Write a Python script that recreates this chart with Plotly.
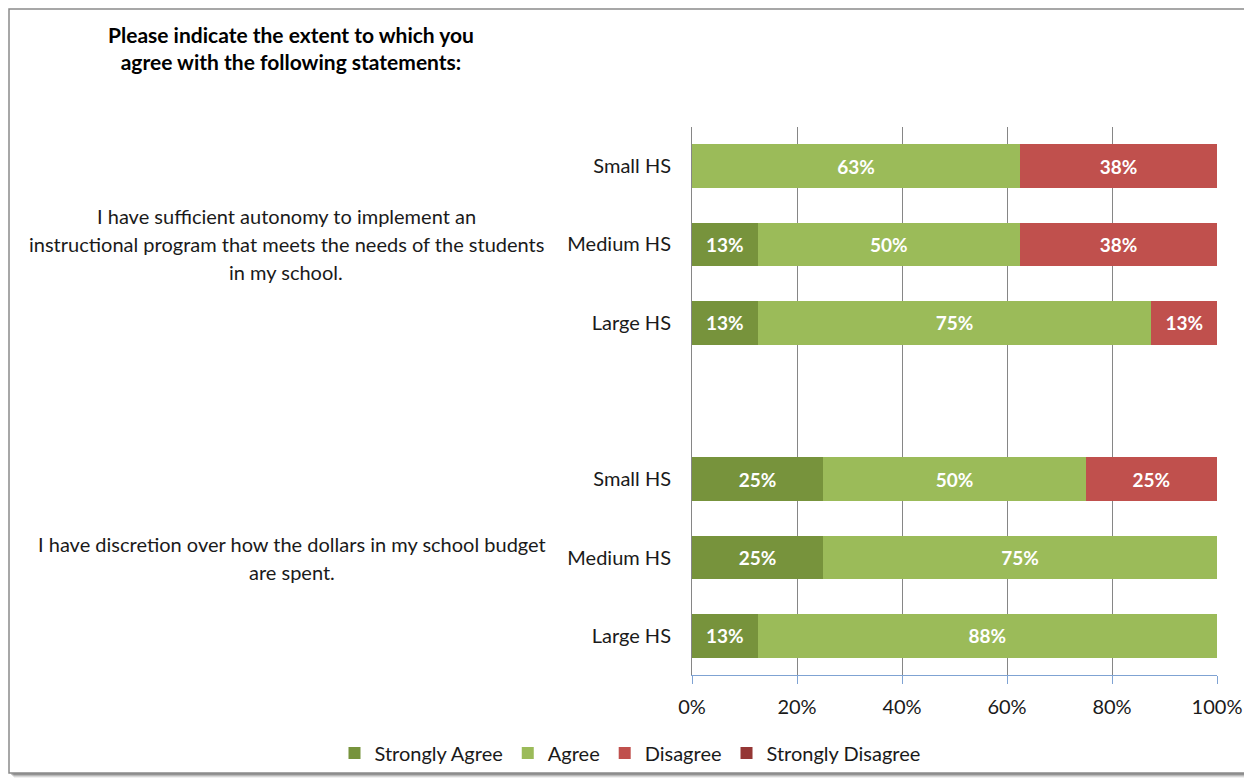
import plotly.graph_objects as go

# ---------------- Data ----------------
row_labels = ["Small HS", "Medium HS", "Large HS", "", "Small HS", "Medium HS", "Large HS"]
row_pos = [6, 5, 4, 3, 2, 1, 0]
strongly_agree = [0, 12.5, 12.5, None, 25, 25, 12.5]
agree = [62.5, 50, 75, None, 50, 75, 87.5]
disagree = [37.5, 37.5, 12.5, None, 25, 0, 0]
strongly_disagree = [0, 0, 0, None, 0, 0, 0]
x_ticks = [0, 20, 40, 60, 80, 100]
x_ticklabels = ["0%", "20%", "40%", "60%", "80%", "100%"]
statement1_lines = [
    "I have sufficient autonomy to implement an",
    "instructional program that meets the needs of the students",
    "in my school.",
]
statement2_lines = [
    "I have discretion over how the dollars in my school budget",
    "are spent.",
]
title_lines = [
    "Please indicate the extent to which you",
    "agree with the following statements:",
]

series = [
    ("Strongly Agree", strongly_agree, "#77933C"),
    ("Agree", agree, "#9BBB59"),
    ("Disagree", disagree, "#C0504D"),
    ("Strongly Disagree", strongly_disagree, "#953735"),
]

FONT = "Lato"
TXT = "#1a1a1a"
OFF = 8  # page body margin

fig = go.Figure()
for name, vals, color in series:
    xs = [v if v else 0 for v in vals]
    txt = [f"{int(v + 0.5)}%" if v else "" for v in vals]
    fig.add_trace(go.Bar(
        y=row_pos, x=xs, name=name, orientation="h",
        marker=dict(color=color, line=dict(width=0)),
        text=txt, textposition="inside", insidetextanchor="middle",
        textfont=dict(color="white", size=19, family=FONT),
        texttemplate="<b>%{text}</b>",
        hoverinfo="skip",
    ))

# reference-page pixel geometry
W, H = 1252 - OFF, 782 - OFF
PL, PR, PT, PB = 692, 1217, 127, 675
L, R, T, B = PL - OFF, PR - OFF, PT - OFF, PB - OFF


def px_x(px):
    return (px - PL) / (PR - PL)


def px_y(py):
    return (PB - py) / (PB - PT)


fig.update_layout(
    width=W, height=H, barmode="stack", bargap=0.44,
    margin=dict(l=L, r=W - R, t=T, b=H - B, autoexpand=False),
    paper_bgcolor="rgba(0,0,0,0)", plot_bgcolor="white",
    font=dict(family=FONT, size=20, color=TXT),
    showlegend=True,
    legend=dict(orientation="h", x=px_x(630), xanchor="center",
                y=px_y(753), yanchor="middle",
                font=dict(size=20, family=FONT, color=TXT),
                itemwidth=30, traceorder="normal", bgcolor="rgba(0,0,0,0)"),
    uniformtext=dict(minsize=10, mode="show"),
)
fig.update_xaxes(
    range=[0, 100], tickvals=x_ticks, ticktext=x_ticklabels,
    showgrid=True, gridcolor="#868686", gridwidth=1,
    showline=True, linecolor="#7FA3D3", linewidth=1.2,
    ticks="outside", ticklen=8, tickcolor="#7FA3D3", tickwidth=1.2,
    ticklabelstandoff=6,
    tickfont=dict(size=20, family=FONT, color=TXT), zeroline=False,
    fixedrange=True,
)
fig.update_yaxes(
    range=[-0.5, 6.5], tickvals=row_pos, ticktext=row_labels,
    showgrid=False, showline=True, linecolor="#868686", linewidth=1,
    ticks="", ticklabelstandoff=16, zeroline=False,
    tickfont=dict(size=20, family=FONT, color=TXT),
    fixedrange=True,
)

# top gridline
fig.add_shape(type="line", xref="paper", yref="paper", x0=0, x1=1, y0=1, y1=1,
              line=dict(color="#868686", width=1), layer="below")

# statement labels (one annotation per line)
for i, line in enumerate(statement1_lines):
    fig.add_annotation(x=px_x(286), y=px_y(216 + 28 * i), xref="paper", yref="paper", text=line,
                       showarrow=False, xanchor="center", yanchor="middle",
                       font=dict(size=20, family=FONT, color=TXT))
for i, line in enumerate(statement2_lines):
    fig.add_annotation(x=px_x(292), y=px_y(544 + 28 * i), xref="paper", yref="paper", text=line,
                       showarrow=False, xanchor="center", yanchor="middle",
                       font=dict(size=20, family=FONT, color=TXT))
# title (single block)
fig.add_annotation(x=px_x(291), y=px_y(48), xref="paper", yref="paper",
                   text="<b>" + "<br>".join(title_lines) + "</b>", showarrow=False,
                   xanchor="center", yanchor="middle", align="center",
                   font=dict(size=21, family=FONT, color="#000"))

# outer frame with shadow
for k, a in [(5, 0.06), (4, 0.10), (3, 0.14), (2, 0.2)]:
    fig.add_shape(type="rect", xref="paper", yref="paper",
                  x0=px_x(9 + k), x1=px_x(1245 + k), y0=px_y(773 + k), y1=px_y(9 + k),
                  line=dict(width=0), fillcolor=f"rgba(0,0,0,{a})", layer="below")
fig.add_shape(type="rect", xref="paper", yref="paper",
              x0=px_x(9), x1=px_x(1245), y0=px_y(773), y1=px_y(9),
              line=dict(color="#8a8a8a", width=1.5), fillcolor="white", layer="below")

fig.write_html("out.html")
